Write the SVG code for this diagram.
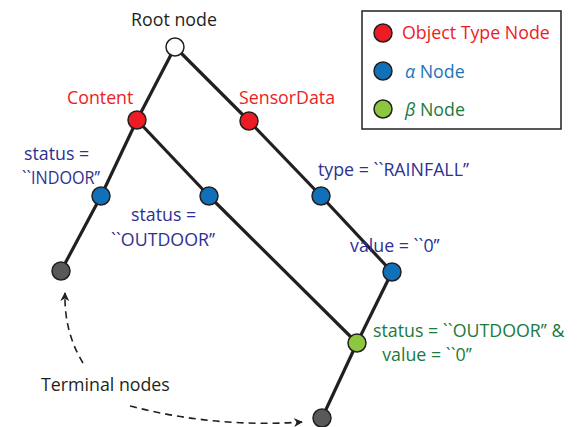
<svg xmlns="http://www.w3.org/2000/svg" width="577" height="427" viewBox="0 0 577 427">
<defs>
<style>
text{font-family:"Open Sans","Liberation Sans",sans-serif;font-size:17.8px}
.k{fill:#231f20}.r{fill:#ed1c24}.b{fill:#2e3192}.lb{fill:#1c75bc}.g{fill:#1a7a40}
.n{stroke:#231f20;stroke-width:1.5}
.red{fill:#ed1c24}.blue{fill:#1270b9}.green{fill:#8dc63f}.gray{fill:#58595b}.white{fill:#fff}
.e{stroke:#231f20;stroke-width:3.2;fill:none}
.d{stroke:#231f20;stroke-width:1.6;fill:none;stroke-dasharray:7 5}
</style>
<marker id="ah" viewBox="0 0 10 10" refX="9" refY="5" markerWidth="10" markerHeight="9" orient="auto" markerUnits="userSpaceOnUse"><path d="M0,0 L10,5 L0,10 L3,5 Z" fill="#231f20"/></marker>
</defs>
<g id="connectors">
<line class="e" x1="175" y1="47" x2="137" y2="120"/>
<line class="e" x1="175" y1="47" x2="249" y2="121"/>
<line class="e" x1="137" y1="120" x2="101" y2="196"/>
<line class="e" x1="101" y1="196" x2="61" y2="271"/>
<line class="e" x1="137" y1="120" x2="209" y2="196"/>
<line class="e" x1="209" y1="196" x2="357" y2="343"/>
<line class="e" x1="249" y1="121" x2="321" y2="196"/>
<line class="e" x1="321" y1="196" x2="392" y2="272"/>
<line class="e" x1="392" y1="272" x2="357" y2="343"/>
<line class="e" x1="357" y1="343" x2="322" y2="418"/>
<path class="d" d="M83,363 Q64,332 65,293" marker-end="url(#ah)"/>
<path class="d" d="M130,406 Q215,428 302,422" marker-end="url(#ah)"/>
</g>
<g id="root"><circle class="n white" cx="175" cy="47" r="9"/><text class="k" x="174" y="26" text-anchor="middle">Root node</text></g>
<g id="content"><circle class="n red" cx="137" cy="120" r="9"/><text class="r" x="67" y="104">Content</text></g>
<g id="sensordata"><circle class="n red" cx="249" cy="121" r="9"/><text class="r" x="239" y="104">SensorData</text></g>
<g id="indoor"><circle class="n blue" cx="101" cy="196" r="9"/><text class="b" x="24" y="160">status =</text><text class="b" x="22" y="184" textLength="78" lengthAdjust="spacingAndGlyphs">``INDOOR’’</text></g>
<g id="outdoor"><circle class="n blue" cx="209" cy="196" r="9"/><text class="b" x="131" y="221">status =</text><text class="b" x="111" y="246">``OUTDOOR’’</text></g>
<g id="type"><circle class="n blue" cx="321" cy="196" r="9"/><text class="b" x="318" y="176">type = ``RAINFALL’’</text></g>
<g id="value"><circle class="n blue" cx="392" cy="272" r="9"/><text class="b" x="350" y="252">value = ``0’’</text></g>
<g id="beta"><circle class="n green" cx="357" cy="343" r="9"/><text class="g" x="373" y="337">status = ``OUTDOOR’’ &amp;</text><text class="g" x="427" y="361" text-anchor="middle">value = ``0’’</text></g>
<g id="term1"><circle class="n gray" cx="61" cy="271" r="9"/></g>
<g id="term2"><circle class="n gray" cx="322" cy="418" r="9"/></g>
<g id="terminal-label"><text class="k" x="41" y="391">Terminal nodes</text></g>
<g id="legend">
<rect x="362" y="11" width="199" height="118" fill="#fff" stroke="#231f20" stroke-width="1.5"/>
<circle class="n red" cx="383" cy="33" r="9"/><text class="r" x="402" y="39">Object Type Node</text>
<circle class="n blue" cx="383" cy="71" r="9"/><text class="lb" x="405" y="78"><tspan font-style="italic">α</tspan> Node</text>
<circle class="n green" cx="383" cy="109" r="9"/><text class="g" x="405" y="116"><tspan font-style="italic">β</tspan> Node</text>
</g>
</svg>
